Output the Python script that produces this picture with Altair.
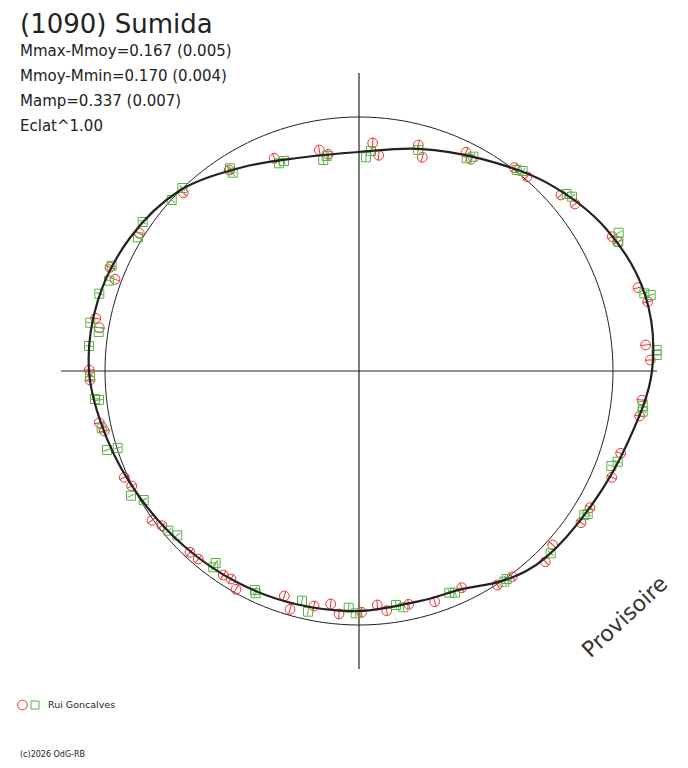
import altair as alt
import pandas as pd
import numpy as np

# ---------------- text ----------------
TITLE = "(1090) Sumida"
STATS = ["Mmax-Mmoy=0.167 (0.005)", "Mmoy-Mmin=0.170 (0.004)",
         "Mamp=0.337 (0.007)", "Eclat^1.00"]
OBSERVER = "Rui Goncalves"
CREDIT = "(c)2026 OdG-RB"
WATERMARK = "Provisoire"

# ---------------- data (chart units, mean-level circle radius = 2.54) ----------------
MEAN_RADIUS = 2.54
AXIS_HALF = 2.98

FIT_ANGLE = [0, 15, 30, 45, 60, 75, 90, 105, 120, 135, 150, 165, 180, 195, 210,
             225, 240, 255, 270, 285, 295, 305, 315, 330, 345]
FIT_RADIUS = [2.93, 2.96, 2.85, 2.66, 2.45, 2.30, 2.19, 2.21, 2.35, 2.545, 2.65, 2.705,
              2.70, 2.61, 2.53, 2.475, 2.44, 2.415, 2.40, 2.38, 2.41, 2.55, 2.64, 2.685, 2.78]

RED_X = [0.593, 0.633, 1.07, 1.12, 1.553, 1.68, 2.02, 2.16, 2.533, 2.587, 2.79, 2.887,
         2.867, 2.913, 2.83, 2.807, 2.617, 2.527, 2.31, 2.22, 1.937, 1.863, 1.533, 1.383,
         1.027, 0.757, 0.497, 0.277, 0.183, 0.027, -0.20, -0.283, -0.45, -0.69, -0.747,
         -1.23, -1.28, -1.357, -1.607, -1.69, -1.97, -2.07, -2.273, -2.347, -2.547, -2.597,
         -2.69, -2.697, -2.597, -2.633, -2.44, -2.49, -2.197, -1.757, -1.297, -0.847,
         -0.397, -0.307, 0.137, 0.197]
RED_Y = [2.26, 2.137, 2.187, 2.117, 2.033, 1.943, 1.76, 1.67, 1.343, 1.293, 0.833, 0.693,
         0.26, 0.11, -0.29, -0.45, -0.823, -1.063, -1.367, -1.517, -1.74, -1.907, -2.057,
         -2.14, -2.167, -2.307, -2.333, -2.397, -2.34, -2.413, -2.43, -2.33, -2.35, -2.383,
         -2.25, -2.183, -2.08, -2.04, -1.88, -1.813, -1.547, -1.493, -1.15, -1.063, -0.60,
         -0.517, -0.09, 0.01, 0.433, 0.527, 0.917, 1.037, 1.377, 1.783, 2.01, 2.127, 2.21,
         2.167, 2.28, 2.157]

GREEN_X = [0.593, 1.077, 1.143, 1.577, 1.637, 2.077, 2.13, 2.597, 2.593, 2.853, 2.917,
           2.977, 2.977, 2.837, 2.837, 2.587, 2.523, 2.287, 2.253, 1.917, 1.477, 1.453,
           0.96, 0.903, 0.443, 0.37, -0.033, -0.103, -0.51, -0.57, -1.033, -1.04, -1.433,
           -1.457, -1.817, -1.907, -2.153, -2.28, -2.413, -2.52, -2.573, -2.60, -2.64,
           -2.69, -2.70, -2.603, -2.687, -2.597, -2.50, -2.473, -2.21, -2.163, -1.873,
           -1.767, -1.29, -1.263, -0.80, -0.75, -0.357, -0.323, 0.07, 0.12]
GREEN_Y = [2.21, 2.127, 2.143, 2.01, 2.00, 1.77, 1.743, 1.383, 1.293, 0.777, 0.76, 0.21,
           0.16, -0.35, -0.407, -0.907, -0.95, -1.43, -1.44, -1.823, -2.08, -2.107, -2.217,
           -2.217, -2.363, -2.34, -2.423, -2.367, -2.407, -2.297, -2.223, -2.19, -1.92,
           -1.963, -1.643, -1.597, -1.29, -1.247, -0.77, -0.79, -0.573, -0.29, -0.28,
           -0.057, 0.25, 0.39, 0.483, 0.773, 0.903, 1.053, 1.337, 1.49, 1.71, 1.83, 2.027,
           1.983, 2.077, 2.10, 2.11, 2.15, 2.137, 2.20]

# ---------------- layout ----------------
W, H = 672, 752
CX, CY = 351, 363          # plot centre in px
PX_PER_UNIT = 100.0
XDOM = [-CX / PX_PER_UNIT, (W - CX) / PX_PER_UNIT]
YDOM = [-(H - CY) / PX_PER_UNIT, CY / PX_PER_UNIT]

RED = "#ee3535"
GREEN = "#55b545"
INK = "#222222"

xs = alt.Scale(domain=XDOM, nice=False, zero=False)
ys = alt.Scale(domain=YDOM, nice=False, zero=False)


def X(f="x"):
    return alt.X(f"{f}:Q", scale=xs, axis=None)


def Y(f="y"):
    return alt.Y(f"{f}:Q", scale=ys, axis=None)


# fit curve
fit_df = pd.DataFrame({"deg": FIT_ANGLE, "r": FIT_RADIUS})
fit_df["x"] = fit_df["r"] * np.cos(np.radians(fit_df["deg"]))
fit_df["y"] = fit_df["r"] * np.sin(np.radians(fit_df["deg"]))
fit_df["o"] = range(len(fit_df))

# mean circle
circ_deg = np.arange(0, 361, 2)
circ_df = pd.DataFrame({"deg": circ_deg,
                        "x": MEAN_RADIUS * np.cos(np.radians(circ_deg)),
                        "y": MEAN_RADIUS * np.sin(np.radians(circ_deg))})

red_df = pd.DataFrame({"x": RED_X, "y": RED_Y})
green_df = pd.DataFrame({"x": GREEN_X, "y": GREEN_Y})

axes_df = pd.DataFrame({"x": [-AXIS_HALF, 0], "x2": [AXIS_HALF, 0],
                        "y": [0, -AXIS_HALF], "y2": [0, AXIS_HALF]})

base_axes = alt.Chart(axes_df).mark_rule(color=INK, strokeWidth=1.2).encode(
    x=X("x"), x2="x2:Q", y=Y("y"), y2="y2:Q")

circle = alt.Chart(circ_df).mark_line(color=INK, strokeWidth=1).encode(
    x=X(), y=Y(), order="deg:Q")

ANGLE_EXPR = "((((-atan2(datum.y, datum.x) * 180 / PI) % 180) + 180) % 180)"

red_pts = alt.Chart(red_df).mark_point(shape="circle", size=95, color=RED, filled=False,
                                       strokeWidth=1, opacity=1).encode(x=X(), y=Y())
red_ticks = alt.Chart(red_df).transform_calculate(a=ANGLE_EXPR).mark_point(
    shape="stroke", size=110, color=RED, filled=False, strokeWidth=1, opacity=1).encode(
    x=X(), y=Y(), angle=alt.Angle("a:Q", scale=None))

green_pts = alt.Chart(green_df).mark_point(shape="square", size=81, color=GREEN, filled=False,
                                           strokeWidth=1, opacity=1).encode(x=X(), y=Y())
green_ticks = alt.Chart(green_df).transform_calculate(a=ANGLE_EXPR).mark_point(
    shape="stroke", size=60, color=GREEN, filled=False, strokeWidth=1, opacity=1).encode(
    x=X(), y=Y(), angle=alt.Angle("a:Q", scale=None))

fit = alt.Chart(fit_df).mark_line(color=INK, strokeWidth=2.2,
                                  interpolate="cardinal-closed").encode(
    x=X(), y=Y(), order="o:Q")

# ---------------- annotations ----------------
one = pd.DataFrame({"k": [0]})


def txt(s, px, py, size, **kw):
    return alt.Chart(one).mark_text(text=s, font="DejaVu Sans", fontSize=size,
                                    color=kw.pop("color", INK), align=kw.pop("align", "left"),
                                    baseline=kw.pop("baseline", "alphabetic"), **kw).encode(
        x=alt.value(px), y=alt.value(py))


texts = [txt(TITLE, 12, 25, 26)]
for i, s in enumerate(STATS):
    texts.append(txt(s, 12, 48 + 25 * i, 15))
texts.append(txt(OBSERVER, 40, 700, 9.5))
texts.append(txt(CREDIT, 12, 749, 8))
texts.append(txt(WATERMARK, 617, 609, 22, align="center", baseline="middle",
                 angle=317, color="#333333"))

leg_red = alt.Chart(one).mark_point(shape="circle", size=95, color=RED, filled=False,
                                    strokeWidth=1, opacity=1).encode(
    x=alt.value(14.5), y=alt.value(697))
leg_green = alt.Chart(one).mark_point(shape="square", size=64, color=GREEN, filled=False,
                                      strokeWidth=1, opacity=1).encode(
    x=alt.value(27), y=alt.value(697))

chart = alt.layer(circle, base_axes, red_pts, red_ticks, green_pts, green_ticks, fit,
                  leg_red, leg_green, *texts).properties(
    width=W, height=H, padding=0, autosize=alt.AutoSizeParams(type="none"),
    background="white").configure_view(stroke=None)

chart.save("out.html", embed_options={"renderer": "svg", "actions": False})
